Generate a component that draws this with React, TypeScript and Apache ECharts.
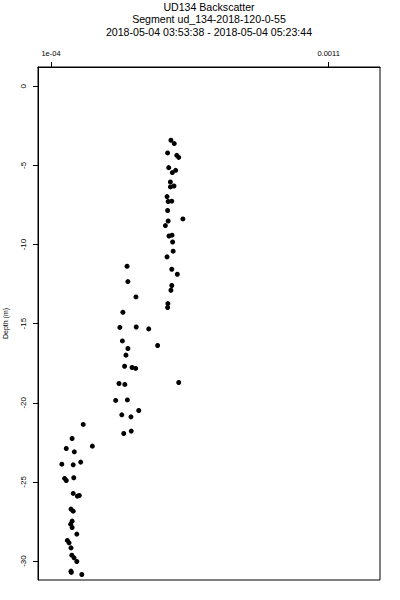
import React, { useEffect, useRef } from "react";
import * as echarts from "echarts";

const titleLines = [
  "UD134 Backscatter",
  "Segment ud_134-2018-120-0-55",
  "2018-05-04 03:53:38 - 2018-05-04 05:23:44",
];

const xTickValues = [0.0001, 0.0011];
const xTickLabels = ["1e-04", "0.0011"];
const yTickValues = [0, -5, -10, -15, -20, -25, -30];
const yAxisName = "Depth (m)";

// backscatter values (linear units)
const backscatter = [
  5.32e-4, 5.44e-4, 5.2e-4, 5.53e-4, 5.6e-4, 5.24e-4, 5.37e-4, 5.49e-4, 5.3e-4, 5.3e-4,
  5.43e-4, 5.18e-4, 5.22e-4, 5.35e-4, 5.2e-4, 5.22e-4, 5.75e-4, 5.12e-4, 5.25e-4, 5.36e-4,
  5.38e-4, 5.4e-4, 5.18e-4, 5.35e-4, 5.55e-4, 5.35e-4, 5.32e-4, 5.21e-4, 5.2e-4,
  3.74e-4, 3.77e-4, 4.06e-4, 3.59e-4, 3.48e-4, 4.07e-4, 4.52e-4, 3.57e-4, 3.77e-4, 4.84e-4,
  3.7e-4, 3.65e-4, 3.92e-4, 4.05e-4, 3.45e-4, 3.66e-4, 5.6e-4, 3.33e-4, 3.75e-4, 4.16e-4,
  3.55e-4, 3.88e-4, 3.62e-4, 3.89e-4,
  2.16e-4, 1.76e-4, 1.55e-4, 1.84e-4, 2.49e-4, 1.39e-4, 1.8e-4, 2.07e-4, 1.49e-4, 1.55e-4,
  1.82e-4, 1.8e-4, 1.95e-4, 2.02e-4, 1.72e-4, 1.8e-4, 1.76e-4, 1.71e-4, 1.76e-4, 1.93e-4,
  1.59e-4, 1.65e-4, 1.72e-4, 1.75e-4, 1.83e-4, 1.93e-4, 1.72e-4, 1.73e-4, 2.11e-4,
];

const depth = [
  -3.41, -3.62, -4.21, -4.36, -4.49, -5.14, -5.45, -5.31, -6.05, -6.36,
  -6.3, -6.97, -7.28, -7.26, -7.85, -8.51, -8.38, -8.8, -9.46, -9.41,
  -9.84, -10.42, -10.78, -11.56, -11.88, -12.59, -12.89, -13.73, -13.98,
  -11.37, -12.34, -13.31, -14.28, -15.24, -15.21, -15.33, -16.09, -16.57, -16.38,
  -16.99, -17.69, -17.77, -17.83, -18.78, -18.84, -18.72, -19.85, -19.82, -20.49,
  -20.76, -20.89, -21.94, -21.79,
  -21.37, -22.26, -22.89, -23.1, -22.74, -23.88, -23.92, -23.75, -24.78, -24.91,
  -24.74, -25.73, -25.9, -25.86, -26.72, -26.85, -27.48, -27.67, -27.88, -28.3,
  -28.7, -28.85, -29.17, -29.63, -29.8, -30.03, -30.64, -30.72, -30.85,
];

const FONT = "Liberation Sans, Arial, Helvetica, sans-serif";

export default function App() {
  const ref = useRef<HTMLDivElement>(null);
  useEffect(() => {
    if (!ref.current) return;
    const chart = echarts.init(ref.current, null, { renderer: "svg" });
    const data = backscatter.map((v, i) => [v, depth[i]]);
    chart.setOption({
      animation: false,
      backgroundColor: "#ffffff",
      title: {
        text: titleLines.join("\n"),
        left: 209,
        textAlign: "center",
        top: 1,
        padding: 0,
        textStyle: {
          fontFamily: FONT,
          fontSize: 10.6,
          fontWeight: "normal",
          color: "#000",
          lineHeight: 12.2,
        },
      },
      grid: {
        left: 38,
        right: 20,
        top: 67,
        bottom: 20,
        show: true,
        borderColor: "#000",
        borderWidth: 1,
        backgroundColor: "transparent",
        outerBoundsMode: "none",
        containLabel: false,
      },
      xAxis: {
        type: "value",
        position: "top",
        min: 0.0000532,
        max: 0.001285,
        splitLine: { show: false },
        axisLine: { show: true, onZero: false, lineStyle: { color: "#000", width: 1 } },
        axisTick: {
          show: true,
          inside: false,
          length: 5,
          customValues: xTickValues,
          lineStyle: { color: "#000", width: 1 },
        },
        axisLabel: {
          show: true,
          customValues: xTickValues,
          margin: 10,
          fontFamily: FONT,
          fontSize: 7.5,
          color: "#000",
          formatter: (v: number) => {
            const i = xTickValues.findIndex((t) => Math.abs(t - v) < 1e-9);
            return i >= 0 ? xTickLabels[i] : "";
          },
        },
      },
      yAxis: {
        type: "value",
        min: -31.2,
        max: 1.22,
        name: yAxisName,
        nameLocation: "middle",
        nameRotate: 90,
        nameGap: 29,
        nameTextStyle: { fontFamily: FONT, fontSize: 7, color: "#000" },
        splitLine: { show: false },
        axisLine: { show: true, onZero: false, lineStyle: { color: "#000", width: 1 } },
        axisTick: {
          show: true,
          inside: false,
          length: 5,
          customValues: yTickValues,
          lineStyle: { color: "#000", width: 1 },
        },
        axisLabel: {
          show: true,
          customValues: yTickValues,
          rotate: 90,
          margin: 11,
          fontFamily: FONT,
          fontSize: 8,
          color: "#000",
        },
      },
      series: [
        {
          type: "scatter",
          data,
          symbol: "circle",
          symbolSize: 5,
          itemStyle: { color: "#000", opacity: 1 },
        },
      ],
    });
    return () => chart.dispose();
  }, []);
  return (
    <div
      ref={ref}
      style={{ position: "fixed", left: 0, top: 0, width: 400, height: 600 }}
    />
  );
}
